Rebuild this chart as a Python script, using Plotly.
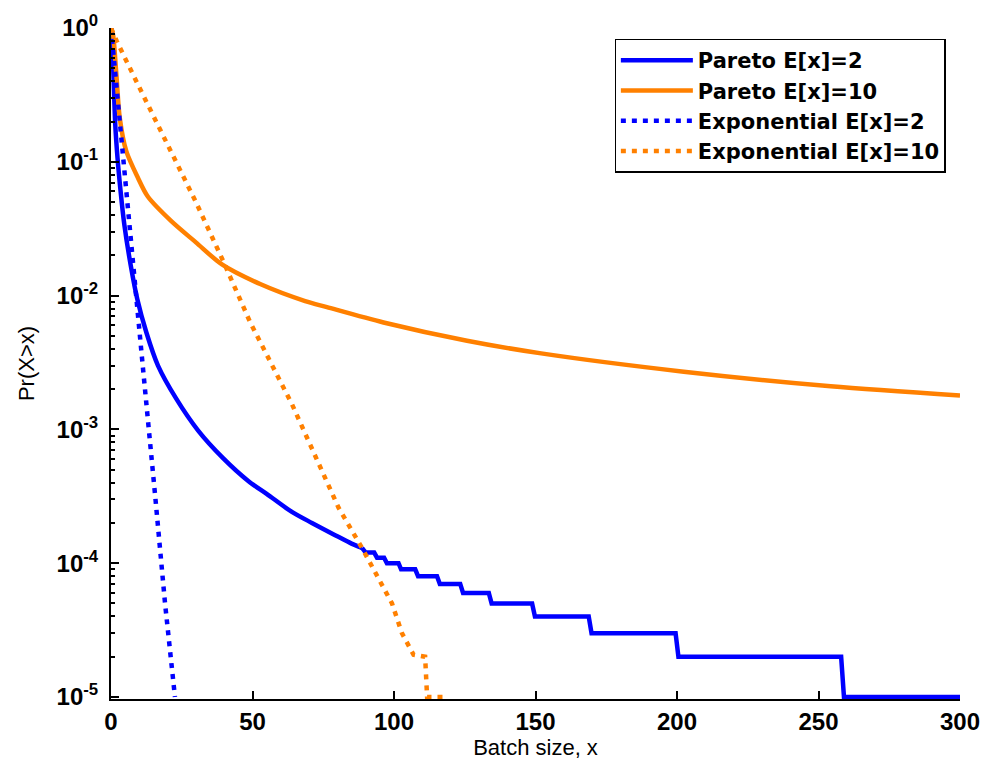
import plotly.graph_objects as go

# ---- data ----
# Pareto E[x]=2: smooth head then the stepped tail (values in multiples of 1e-5)
pareto2_x = [0, 0.7, 1.5, 2.3, 3.4, 4.7, 7.0, 9.3, 12.5, 16.6,
             23.1, 30.8, 39.6, 48.6, 55, 63.9, 71, 79.2, 85, 88.7,
             90, 93, 94, 96.5, 97.5, 101.6,
             102.5, 107.5, 108.5, 115.2, 116.2, 123.4, 124.4, 133.5, 134.5, 148.8,
             149.8, 168.8, 169.8, 199.5, 200.5, 258, 259, 300]
pareto2_y = [1, 0.55, 0.19, 0.107, 0.06, 0.034, 0.0167, 0.0094, 0.0053, 0.003,
             0.00169, 9.8e-4, 6.1e-4, 4.1e-4, 3.3e-4, 2.42e-4, 2.0e-4, 1.62e-4, 1.4e-4, 1.3e-4,
             1.2e-4, 1.2e-4, 1.1e-4, 1.1e-4, 1e-4, 1e-4,
             9e-5, 9e-5, 8e-5, 8e-5, 7e-5, 7e-5, 6e-5, 6e-5, 5e-5, 5e-5,
             4e-5, 4e-5, 3e-5, 3e-5, 2e-5, 2e-5, 1e-5, 1e-5]
pareto2_smooth_n = 20  # number of leading points that form the smooth head

pareto10_x = [0, 0.7, 1.9, 3.1, 5.4, 9.5, 13, 21.3, 30, 39.2,
              52.7, 68.6, 76.3, 96.3, 125.8, 152, 202.4, 254.3, 300]
pareto10_y = [1, 0.9, 0.447, 0.212, 0.12, 0.076, 0.055, 0.036, 0.025, 0.0171,
              0.0122, 0.0091, 0.0082, 0.0063, 0.0046, 0.0037, 0.0027, 0.0021, 0.00179]

exp2_x = [0, 3.2, 6.1, 10.8, 15.6, 19.1, 22.6]
exp2_y = [1, 0.2, 0.04, 0.0037, 3.2e-4, 5e-5, 1e-5]

exp10_x = [0, 2, 10, 20, 30, 39.7, 49.2, 63.9, 80.4, 88.7, 92.8, 99.3, 102.8, 106.9, 111, 111.7, 118.7]
exp10_y = [1, 0.8, 0.36, 0.135, 0.05, 0.018, 0.0063, 0.00155, 2.6e-4, 1.3e-4, 9e-5, 5e-5, 3e-5,
           2.07e-5, 2e-5, 1e-5, 1e-5]

series_names = ["Pareto E[x]=2", "Pareto E[x]=10", "Exponential E[x]=2", "Exponential E[x]=10"]

x_ticks = [0, 50, 100, 150, 200, 250, 300]
y_tickvals = [1e-5, 1e-4, 1e-3, 1e-2, 1e-1, 1]
y_ticktext = ["10<sup>-5</sup>", "10<sup>-4</sup>", "10<sup>-3</sup>", "10<sup>-2</sup>",
              "10<sup>-1</sup>", "10<sup>0</sup>"]
decades = [1e-5, 1e-4, 1e-3, 1e-2, 1e-1]
minor_digits = [2, 3, 4, 5, 6, 7, 8, 9]
y_minor_vals = [d * m for d in decades for m in minor_digits]

BLUE = "rgb(0,0,255)"
ORANGE = "rgb(255,128,0)"
LW = 4.5
DOT = "5px,6px"
FONT = "Liberation Sans, Arial, Helvetica, sans-serif"

fig = go.Figure()
n = pareto2_smooth_n
fig.add_trace(go.Scatter(x=pareto2_x[:n], y=pareto2_y[:n], mode="lines", name=series_names[0],
                         legendgroup="p2", line=dict(color=BLUE, width=LW, shape="spline", smoothing=0.8)))
fig.add_trace(go.Scatter(x=pareto2_x[n - 1:], y=pareto2_y[n - 1:], mode="lines", name=series_names[0],
                         legendgroup="p2", showlegend=False, line=dict(color=BLUE, width=LW)))
fig.add_trace(go.Scatter(x=pareto10_x, y=pareto10_y, mode="lines", name=series_names[1],
                         line=dict(color=ORANGE, width=LW, shape="spline", smoothing=0.8)))
fig.add_trace(go.Scatter(x=exp2_x, y=exp2_y, mode="lines", name=series_names[2],
                         line=dict(color=BLUE, width=LW, dash=DOT)))
fig.add_trace(go.Scatter(x=exp10_x, y=exp10_y, mode="lines", name=series_names[3],
                         line=dict(color=ORANGE, width=LW, dash=DOT)))
# empty trace so the overlaid minor-tick axis is always drawn
fig.add_trace(go.Scatter(x=[], y=[], yaxis="y2", showlegend=False, hoverinfo="skip"))

tickfont = dict(family=FONT, size=24, color="black", weight="bold")
titlefont = dict(family=FONT, size=22, color="black")
YRANGE = [-5.015, 0]

# page body has an 8px default margin, so the figure is sized 8px smaller each way
fig.update_layout(
    width=980, height=758,
    margin=dict(l=103, r=28, t=20, b=67, autoexpand=False),
    paper_bgcolor="white", plot_bgcolor="white",
    showlegend=True,
    legend=dict(
        x=0.983, y=0.984, xanchor="right", yanchor="top",
        bgcolor="white", bordercolor="black", borderwidth=1.3,
        font=dict(family="DejaVu Sans, Liberation Sans, sans-serif", size=21, color="black", weight="bold"),
        itemwidth=72, tracegroupgap=0,
    ),
    xaxis=dict(
        range=[0, 300], tickvals=x_ticks, ticktext=[str(v) for v in x_ticks],
        showgrid=False, zeroline=False, showline=True, linecolor="black", linewidth=2,
        ticks="inside", ticklen=8, tickwidth=2, tickcolor="black",
        tickfont=tickfont, automargin=False,
        title=dict(text="Batch size, x", font=titlefont, standoff=2),
    ),
    yaxis=dict(
        type="log", range=YRANGE,
        tickvals=y_tickvals, ticktext=y_ticktext,
        showgrid=False, zeroline=False, showline=True, linecolor="black", linewidth=2,
        ticks="inside", ticklen=8, tickwidth=2, tickcolor="black",
        tickfont=tickfont, automargin=False, ticklabelstandoff=6,
        title=dict(text="Pr(X>x)", font=titlefont, standoff=16),
    ),
    yaxis2=dict(
        type="log", range=YRANGE, overlaying="y", side="left", anchor="x",
        tickvals=y_minor_vals, showticklabels=False, automargin=False,
        showgrid=False, zeroline=False, showline=False,
        ticks="inside", ticklen=4, tickwidth=1.5, tickcolor="black",
    ),
)

fig.write_html("out.html")
